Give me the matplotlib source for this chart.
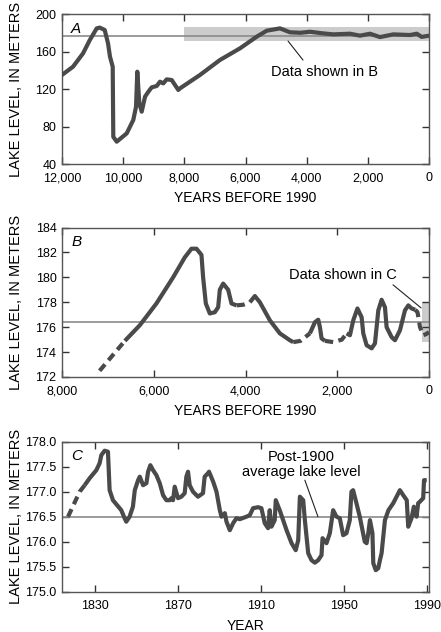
import matplotlib
matplotlib.use("Agg")
import matplotlib.pyplot as plt
import numpy as np

plt.rcParams['font.family'] = ['Liberation Sans', 'DejaVu Sans']

# ---------------- Data ----------------
# Panel A: years before 1990, lake level (m)
a_years = [12000, 11640, 11313, 11095, 10866, 10767, 10604, 10495, 10431, 10342,
           10323, 10211, 9884, 9669, 9580, 9538, 9472, 9394, 9286, 9178, 9067,
           8904, 8796, 8688, 8577, 8414, 8305, 8197, 8142, 7488, 6834, 6180,
           5635, 5308, 4872, 4545, 4200, 3891, 3500, 3129, 2583, 2256, 1930,
           1603, 1166, 620, 400, 240, 0]
a_levels = [135, 143.8, 158, 172, 184.7, 185.5, 183, 168.7, 154.5, 143.8,
            69, 63.8, 72.7, 87, 101, 138.5, 104.7, 95.8, 111.8, 117, 121.8,
            123.2, 127.8, 126, 130.3, 129.6, 124.3, 119, 120.7, 135, 151, 163.4,
            175.8, 182.2, 184.7, 180.5, 180, 181.1, 179.5, 178.3, 179, 176.9, 179,
            175.4, 178.3, 177.6, 179, 175.6, 176.9]
a_avg = 176.5
a_band_years = [8000, 0]
a_band_levels = [171.5, 186]

# Panel B: segments (years before 1990, level)
b_seg1_years = [7180, 6630]                     # dashed
b_seg1_levels = [172.5, 174.9]
b_seg2_years = [6630, 6305, 5942, 5578, 5324, 5178, 5069, 4960, 4924, 4865,
                4778, 4669, 4596, 4560, 4487, 4378, 4305, 4196]  # solid
b_seg2_levels = [174.9, 176.15, 177.9, 180.0, 181.6, 182.3, 182.3, 181.8, 180.0, 177.9,
                 177.1, 177.2, 177.6, 179.0, 179.5, 179.0, 177.9, 177.75]
b_seg3_years = [4196, 4050, 3905]               # dashed
b_seg3_levels = [177.75, 177.8, 178.0]
b_seg4_years = [3905, 3796, 3687, 3469, 3251, 3033, 2960]  # solid
b_seg4_levels = [178.0, 178.5, 178.0, 176.55, 175.5, 174.95, 174.8]
b_seg5_years = [2960, 2800, 2596]               # dashed
b_seg5_levels = [174.8, 174.9, 175.5]
b_seg6_years = [2596, 2487, 2415, 2378, 2342, 2269]  # solid
b_seg6_levels = [175.5, 176.4, 176.6, 176.0, 175.1, 174.9]
b_seg7_years = [2269, 2087, 1900, 1796]         # dashed
b_seg7_levels = [174.9, 174.8, 175.0, 175.5]
b_seg8_years = [1796, 1724, 1651, 1560, 1469, 1433, 1360, 1251, 1178, 1105,
                1033, 960, 924, 815, 742, 633, 524, 451, 378, 300]  # solid
b_seg8_levels = [175.5, 175.35, 176.55, 177.5, 176.8, 175.5, 174.55, 174.3, 174.7, 177.35,
                 178.2, 177.6, 176.0, 175.2, 174.95, 175.75, 177.35, 177.75, 177.5, 177.4]
b_seg9_years = [300, 250, 196, 124, 60, 0]      # dashed
b_seg9_levels = [177.4, 177.2, 176.0, 175.35, 175.45, 175.6]
b_avg = 176.45
b_band_years = [150, 0]
b_band_levels = [174.8, 178.0]

# Panel C: calendar years, lake level
c_dash_years = [1817.2, 1822.8, 1825.2]
c_dash_levels = [176.5, 177.0, 177.13]
c_years = [1825.2, 1827.6, 1830.8, 1832.4, 1833.2, 1834.8, 1836.4, 1837.2, 1838.8, 1841.2,
           1842.8, 1844.4, 1845.2, 1846.8, 1848.4, 1849.3, 1850.9, 1851.7, 1853.3, 1854.9,
           1855.7, 1856.8, 1858.1, 1859.7, 1861.3, 1862.9, 1864.5, 1866.1, 1866.9, 1867.7,
           1868.5, 1870.1, 1871.7, 1873.3, 1874.1, 1874.9, 1875.7, 1877.3, 1879.7, 1882.1,
           1882.9, 1884.5, 1885.0, 1887.0, 1888.6, 1890.2, 1891.0, 1892.6, 1893.4, 1895.0,
           1896.6, 1898.2, 1899.8, 1903.0, 1904.6, 1906.2, 1908.6, 1910.2, 1911.8, 1913.4,
           1914.2, 1915.0, 1916.6, 1917.1, 1919.0, 1922.3, 1924.7, 1926.7, 1927.9, 1928.7,
           1930.3, 1931.1, 1932.7, 1934.3, 1935.9, 1937.5, 1939.1, 1939.6, 1941.5, 1943.1,
           1944.7, 1946.3, 1947.9, 1949.5, 1951.1, 1952.7, 1953.5, 1954.3, 1955.9, 1957.5,
           1958.8, 1959.9, 1960.8, 1961.6, 1962.4, 1963.6, 1964.0, 1965.2, 1966.4, 1967.2,
           1968.0, 1969.6, 1971.3, 1973.6, 1975.2, 1976.8, 1978.4, 1980.1, 1980.8, 1982.4,
           1983.5, 1984.8, 1985.6, 1986.4, 1988.0, 1988.4, 1989.7]
c_levels = [177.13, 177.27, 177.43, 177.57, 177.73, 177.82, 177.8, 177.03, 176.83, 176.71,
            176.63, 176.47, 176.4, 176.5, 176.7, 177.03, 177.23, 177.3, 177.13, 177.17,
            177.4, 177.53, 177.43, 177.33, 177.17, 176.93, 176.83, 176.83, 176.87, 176.83,
            177.1, 176.87, 176.9, 176.97, 177.3, 177.4, 177.13, 177.0, 176.9, 176.97,
            177.3, 177.37, 177.4, 177.2, 177.0, 176.63, 176.5, 176.57, 176.4, 176.23,
            176.37, 176.47, 176.45, 176.5, 176.53, 176.67, 176.69, 176.67, 176.37, 176.27,
            176.63, 176.3, 176.43, 176.83, 176.63, 176.23, 175.97, 175.83, 176.03, 176.9,
            176.83, 176.43, 175.77, 175.63, 175.58, 175.63, 175.73, 176.07, 175.97, 176.17,
            176.63, 176.5, 176.47, 176.13, 176.17, 176.43, 177.0, 177.03, 176.77, 176.5,
            176.23, 176.0, 175.97, 176.17, 176.43, 176.17, 175.57, 175.43, 175.47, 175.63,
            175.77, 176.43, 176.63, 176.77, 176.9, 177.03, 176.93, 176.83, 176.3, 176.47,
            176.7, 176.5, 176.77, 176.8, 176.87, 177.23, 177.23]
c_avg = 176.5

a_xticks = [12000, 10000, 8000, 6000, 4000, 2000, 0]
a_yticks = [40, 80, 120, 160, 200]
b_xticks = [8000, 6000, 4000, 2000, 0]
b_yticks = [172, 174, 176, 178, 180, 182, 184]
c_xticks = [1830, 1870, 1910, 1950, 1990]
c_yticks = [175.0, 175.5, 176.0, 176.5, 177.0, 177.5, 178.0]

# ---------------- Style ----------------
LINE = '#4a4a4a'
AVG = '#8a8a8a'
BAND = '#cccccc'
SPINE = '#555555'
LW = 3.0
TICKFS = 9
LABFS = 10
ANNFS = 10.5
YLABFS = 10.5
DASH = (0, (2.0, 1.3))

fig = plt.figure(figsize=(4.41, 6.32), dpi=100)

def style_axes(ax):
    for s in ax.spines.values():
        s.set_color(SPINE)
        s.set_linewidth(1.0)
    ax.tick_params(direction='in', length=5, width=1.0, color='#333333',
                   top=True, right=True, labelsize=TICKFS, pad=4)
    ax.tick_params(axis='x', pad=6)

def comma(v):
    return f"{int(v):,}"

def leader(ax, p0, p1):
    ax.annotate('', xy=p1, xytext=p0,
                arrowprops=dict(arrowstyle='-', color='#222222', lw=0.8,
                                shrinkA=0, shrinkB=0))

# ---- Panel A ----
axA = fig.add_axes([0.1406, 0.7405, 0.8322, 0.2373])
axA.fill_between(a_band_years, a_band_levels[0], a_band_levels[1], color=BAND, lw=0, zorder=1)
axA.axhline(a_avg, color=AVG, lw=1.2, zorder=2)
axA.plot(a_years, a_levels, color=LINE, lw=LW, solid_capstyle='round', solid_joinstyle='round', zorder=3)
axA.set_xlim(12000, 0)
axA.set_ylim(40, 200)
axA.set_xticks(a_xticks)
axA.set_xticklabels([comma(v) for v in a_xticks])
axA.set_yticks(a_yticks)
style_axes(axA)
axA.set_xlabel('YEARS BEFORE 1990', fontsize=LABFS, labelpad=5)
axA.text(0.025, 0.95, 'A', transform=axA.transAxes, fontsize=11, style='italic', va='top', ha='left')
axA.text(3430, 138, 'Data shown in B', fontsize=ANNFS, ha='center', va='center')
leader(axA, (4610, 171.2), (4120, 150.9))

# ---- Panel B ----
axB = fig.add_axes([0.1406, 0.4035, 0.8322, 0.2365])
axB.fill_between(b_band_years, b_band_levels[0], b_band_levels[1], color=BAND, lw=0, zorder=1)
axB.axhline(b_avg, color=AVG, lw=1.2, zorder=2)
solid_segs = [(b_seg2_years, b_seg2_levels), (b_seg4_years, b_seg4_levels),
              (b_seg6_years, b_seg6_levels), (b_seg8_years, b_seg8_levels)]
dash_segs = [(b_seg1_years, b_seg1_levels), (b_seg3_years, b_seg3_levels),
             (b_seg5_years, b_seg5_levels), (b_seg7_years, b_seg7_levels),
             (b_seg9_years, b_seg9_levels)]
for xs, ys in solid_segs:
    axB.plot(xs, ys, color=LINE, lw=LW, solid_capstyle='butt', solid_joinstyle='round', zorder=3)
for xs, ys in dash_segs:
    axB.plot(xs, ys, color=LINE, lw=LW, linestyle=DASH, dash_capstyle='butt', zorder=3)
axB.set_xlim(8000, 0)
axB.set_ylim(172, 184)
axB.set_xticks(b_xticks)
axB.set_xticklabels([comma(v) for v in b_xticks])
axB.set_yticks(b_yticks)
style_axes(axB)
axB.set_xlabel('YEARS BEFORE 1990', fontsize=LABFS, labelpad=5)
axB.text(0.025, 0.95, 'B', transform=axB.transAxes, fontsize=11, style='italic', va='top', ha='left')
axB.text(1870, 180.2, 'Data shown in C', fontsize=ANNFS, ha='center', va='center')
leader(axB, (785, 179.4), (174, 177.55))

# ---- Panel C ----
axC = fig.add_axes([0.1406, 0.0638, 0.8322, 0.2373])
axC.axhline(c_avg, color=AVG, lw=1.2, zorder=2)
axC.plot(c_dash_years, c_dash_levels, color=LINE, lw=LW, linestyle=DASH, dash_capstyle='butt', zorder=3)
axC.plot(c_years, c_levels, color=LINE, lw=LW, solid_capstyle='butt', solid_joinstyle='round', zorder=3)
axC.set_xlim(1814.3, 1990.8)
axC.set_ylim(175.0, 178.0)
axC.set_xticks(c_xticks)
axC.set_yticks(c_yticks)
axC.set_yticklabels([f"{v:.1f}" for v in c_yticks])
style_axes(axC)
axC.set_xlabel('YEAR', fontsize=LABFS, labelpad=5)
axC.text(0.025, 0.95, 'C', transform=axC.transAxes, fontsize=11, style='italic', va='top', ha='left')
axC.text(1929.5, 177.54, 'Post-1900\naverage lake level', fontsize=ANNFS,
         ha='center', va='center', linespacing=1.05)
leader(axC, (1931.1, 177.23), (1937.4, 176.5))

for ax in (axA, axB, axC):
    ax.set_ylabel('LAKE LEVEL, IN METERS', fontsize=YLABFS)
    ax.yaxis.set_label_coords(-0.105, 0.5)

fig.savefig('out.png', dpi=100)
